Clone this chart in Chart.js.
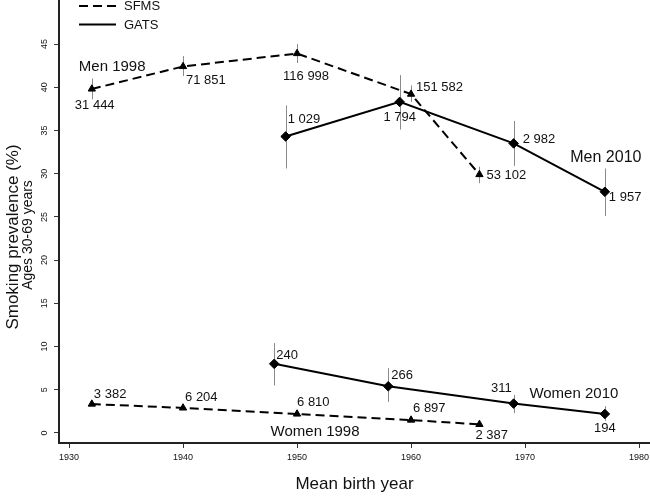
<!DOCTYPE html>
<html>
<head>
<meta charset="utf-8">
<script src="https://cdn.jsdelivr.net/npm/chart.js@4"></script>
<style>
  html, body { margin: 0; padding: 0; background: #fff; }
  canvas { display: block; }
</style>
</head>
<body>
<canvas id="c" width="650" height="499"></canvas>
<script>
// ---- data ----
const sfmsYears = [1932, 1940, 1950, 1960, 1966];
const menSfms = [39.8, 42.4, 43.9, 39.2, 29.9];
const menSfmsLow = [38.6, 41.3, 42.8, 38.3, 28.9];
const menSfmsHigh = [41.0, 43.6, 45.0, 40.2, 30.8];
const menSfmsN = ["31 444", "71 851", "116 998", "151 582", "53 102"];

const womenSfms = [3.35, 2.9, 2.2, 1.5, 1.0];
const womenSfmsLow = [3.15, 2.75, 2.05, 1.35, 0.8];
const womenSfmsHigh = [3.55, 3.05, 2.35, 1.65, 1.2];
const womenSfmsN = ["3 382", "6 204", "6 810", "6 897", "2 387"];

const gatsMenYears = [1949, 1959, 1969, 1977];
const menGats = [34.3, 38.3, 33.5, 27.9];
const menGatsLow = [30.6, 35.1, 30.9, 25.1];
const menGatsHigh = [37.9, 41.4, 36.1, 30.6];
const menGatsN = ["1 029", "1 794", "2 982", "1 957"];

const gatsWomenYears = [1948, 1958, 1969, 1977];
const womenGats = [8.0, 5.4, 3.4, 2.2];
const womenGatsLow = [5.5, 3.6, 2.3, 1.4];
const womenGatsHigh = [10.4, 7.5, 4.4, 3.1];
const womenGatsN = ["240", "266", "311", "194"];

const xTicks = [1930, 1940, 1950, 1960, 1970, 1980];
const yTicks = [0, 5, 10, 15, 20, 25, 30, 35, 40, 45];

const FONT = "'Liberation Sans', Arial, Helvetica, sans-serif";

// label placement styles (pixel offsets from the data point, alignment)
const menSfmsLabelStyle = [
  {dx: -17, dy: 16, align: 'left'}, {dx: 3, dy: 14, align: 'left'},
  {dx: -14, dy: 23, align: 'left'}, {dx: 5, dy: -7, align: 'left'},
  {dx: 7, dy: 1, align: 'left'}];
const womenSfmsLabelStyle = [
  {dx: 2, dy: -10, align: 'left'}, {dx: 2, dy: -11, align: 'left'},
  {dx: 0, dy: -12, align: 'left'}, {dx: 2, dy: -12, align: 'left'},
  {dx: -4, dy: 11, align: 'left'}];
const menGatsLabelStyle = [
  {dx: 2, dy: -17, align: 'left'}, {dx: 0, dy: 16, align: 'center'},
  {dx: 9, dy: -4, align: 'left'}, {dx: 4, dy: 6, align: 'left'}];
const womenGatsLabelStyle = [
  {dx: 2, dy: -8, align: 'left'}, {dx: 3, dy: -11, align: 'left'},
  {dx: -2, dy: -15, align: 'right'}, {dx: 0, dy: 14, align: 'center'}];

function pts(xs, ys) { return xs.map((x, i) => ({x: x, y: ys[i]})); }

const datasets = [
  {label: 'SFMS men', data: pts(sfmsYears, menSfms), low: menSfmsLow, high: menSfmsHigh,
   n: menSfmsN, ls: menSfmsLabelStyle, borderDash: [9, 5], pointStyle: 'triangle', pointRadius: 4.2},
  {label: 'GATS men', data: pts(gatsMenYears, menGats), low: menGatsLow, high: menGatsHigh,
   n: menGatsN, ls: menGatsLabelStyle, borderDash: [], pointStyle: 'rectRot', pointRadius: 4.8},
  {label: 'SFMS women', data: pts(sfmsYears, womenSfms), low: womenSfmsLow, high: womenSfmsHigh,
   n: womenSfmsN, ls: womenSfmsLabelStyle, borderDash: [9, 5], pointStyle: 'triangle', pointRadius: 4.2},
  {label: 'GATS women', data: pts(gatsWomenYears, womenGats), low: womenGatsLow, high: womenGatsHigh,
   n: womenGatsN, ls: womenGatsLabelStyle, borderDash: [], pointStyle: 'rectRot', pointRadius: 4.8}
].map(d => Object.assign({
  showLine: true, borderColor: '#000', backgroundColor: '#000', borderWidth: 2,
  pointBackgroundColor: '#000', pointBorderColor: '#000', pointBorderWidth: 1
}, d));

// series labels: anchored to a data point index of a dataset
const seriesLabels = [
  {text: 'Men 1998', ds: 0, i: 0, dx: -13, dy: -22, align: 'left', size: 15},
  {text: 'Men 2010', ds: 1, i: 3, dx: 1, dy: -34, align: 'center', size: 16},
  {text: 'Women 1998', ds: 2, i: 2, dx: 18, dy: 18, align: 'center', size: 15},
  {text: 'Women 2010', ds: 3, i: 3, dx: -31, dy: -20, align: 'center', size: 15}
];

const decor = {
  id: 'decor',
  beforeDatasetsDraw(chart) {
    const {ctx, scales: {x, y}} = chart;
    ctx.save();
    ctx.strokeStyle = '#8a8a8a';
    ctx.lineWidth = 1;
    chart.data.datasets.forEach(ds => {
      ds.data.forEach((p, i) => {
        const px = Math.round(x.getPixelForValue(p.x)) + 0.5;
        ctx.beginPath();
        ctx.moveTo(px, y.getPixelForValue(ds.low[i]));
        ctx.lineTo(px, y.getPixelForValue(ds.high[i]));
        ctx.stroke();
      });
    });
    ctx.restore();
  },
  afterDraw(chart) {
    const {ctx, scales: {x, y}} = chart;
    ctx.save();
    ctx.fillStyle = '#111';
    ctx.textBaseline = 'middle';
    // sample size labels
    ctx.font = '13px ' + FONT;
    chart.data.datasets.forEach(ds => {
      ds.data.forEach((p, i) => {
        const st = ds.ls[i];
        ctx.textAlign = st.align;
        ctx.fillText(ds.n[i], x.getPixelForValue(p.x) + st.dx, y.getPixelForValue(p.y) + st.dy);
      });
    });
    // series labels
    seriesLabels.forEach(l => {
      const p = chart.data.datasets[l.ds].data[l.i];
      ctx.font = l.size + 'px ' + FONT;
      ctx.textAlign = l.align;
      ctx.fillText(l.text, x.getPixelForValue(p.x) + l.dx, y.getPixelForValue(p.y) + l.dy);
    });
    // y tick labels (rotated)
    ctx.font = '9px ' + FONT;
    ctx.textAlign = 'center';
    y.ticks.forEach(t => {
      ctx.save();
      ctx.translate(45, y.getPixelForValue(t.value));
      ctx.rotate(-Math.PI / 2);
      ctx.fillText(String(t.value), 0, 0);
      ctx.restore();
    });
    // y axis title (two lines)
    ctx.save();
    ctx.translate(13, 237);
    ctx.rotate(-Math.PI / 2);
    ctx.font = '17px ' + FONT;
    ctx.fillText('Smoking prevalence (%)', 0, 0);
    ctx.font = '14px ' + FONT;
    ctx.fillText('Ages 30-69 years', 2, 15);
    ctx.restore();
    // legend
    ctx.strokeStyle = '#000';
    ctx.lineWidth = 2;
    ctx.setLineDash([9, 5]);
    ctx.beginPath(); ctx.moveTo(79, 6); ctx.lineTo(116, 6); ctx.stroke();
    ctx.setLineDash([]);
    ctx.beginPath(); ctx.moveTo(79, 24.5); ctx.lineTo(116, 24.5); ctx.stroke();
    ctx.font = '13px ' + FONT;
    ctx.textAlign = 'left';
    ctx.fillText('SFMS', 124, 6);
    ctx.fillText('GATS', 124, 25);
    ctx.restore();
  }
};

new Chart(document.getElementById('c'), {
  type: 'scatter',
  data: {datasets: datasets},
  options: {
    responsive: false,
    animation: false,
    layout: {padding: 0, autoPadding: false},
    plugins: {legend: {display: false}, tooltip: {enabled: false}},
    scales: {
      x: {
        type: 'linear', min: 1929.12, max: 1980.96,
        afterBuildTicks: s => { s.ticks = xTicks.map(v => ({value: v})); },
        afterFit: s => { s.height = 56; s.paddingLeft = 0; s.paddingRight = 0; },
        grid: {display: true, drawOnChartArea: false, drawTicks: true, tickLength: 5, color: '#333', lineWidth: 1},
        border: {display: true, color: '#222', width: 2},
        ticks: {color: '#111', font: {family: FONT, size: 9}, padding: 4, maxRotation: 0, minRotation: 0,
                callback: v => String(v)},
        title: {display: true, text: 'Mean birth year', color: '#111', font: {family: FONT, size: 17},
                padding: {top: 0, bottom: 4}}
      },
      y: {
        type: 'linear', min: -1.157, max: 50.09,
        afterBuildTicks: s => { s.ticks = yTicks.map(v => ({value: v})); },
        afterFit: s => { s.width = 59; s.paddingTop = 0; s.paddingBottom = 0; },
        grid: {display: true, drawOnChartArea: false, drawTicks: true, tickLength: 5, color: '#333', lineWidth: 1},
        border: {display: true, color: '#222', width: 2},
        ticks: {display: false}
      }
    }
  },
  plugins: [decor]
});
</script>
</body>
</html>
